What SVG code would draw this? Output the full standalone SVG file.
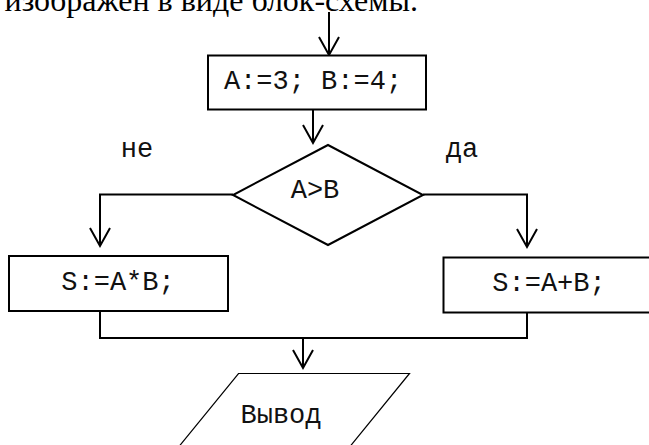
<svg xmlns="http://www.w3.org/2000/svg" width="649" height="445" viewBox="0 0 649 445">
<style>
.shape{fill:#fff;stroke:#000;stroke-width:2}
.thin{fill:#fff;stroke:#000;stroke-width:1.2}
.code{font-family:"Liberation Mono","Courier New",monospace;font-size:27px;fill:#111;text-anchor:middle}
.conn{fill:none;stroke:#000;stroke-width:2}
.head{fill:none;stroke:#000;stroke-width:2}
</style>
<defs>
<marker id="arr" markerUnits="userSpaceOnUse" orient="auto" refX="0" refY="0" markerWidth="20" markerHeight="20" overflow="visible">
<path class="head" d="M-18,-10 L0,0 L-18,10"/>
</marker>
</defs>
<text x="418" y="11" font-family="'Liberation Serif','Times New Roman',serif" font-size="32" text-anchor="end" fill="#000">изображен в виде блок-схемы.</text>
<g id="connectors">
<path class="conn" d="M329,12 L329,55" marker-end="url(#arr)"/>
<path class="conn" d="M313,109 L313,143" marker-end="url(#arr)"/>
<path class="conn" d="M233,194.5 L100,194.5 L100,246" marker-end="url(#arr)"/>
<path class="conn" d="M423,194.5 L527,194.5 L527,247" marker-end="url(#arr)"/>
<path class="conn" d="M100,311 L100,338 L527,338 L527,312"/>
<path class="conn" d="M303,338 L303,368" marker-end="url(#arr)"/>
</g>
<g id="init">
<rect class="shape" x="208" y="55.5" width="218" height="54"/>
<text class="code" x="313" y="89">A:=3; B:=4;</text>
</g>
<g id="cond">
<polygon class="shape" points="328,145 423,195 328,245 233,195"/>
<text class="code" x="315" y="198">A&gt;B</text>
</g>
<g id="label-no">
<text class="code" x="137" y="157">не</text>
</g>
<g id="label-yes">
<text class="code" x="462" y="157">да</text>
</g>
<g id="mul">
<rect class="shape" x="9" y="256" width="219" height="55"/>
<text class="code" x="118" y="290">S:=A*B;</text>
</g>
<g id="add">
<rect class="shape" x="443.5" y="257.5" width="215" height="55"/>
<text class="code" x="549" y="291">S:=A+B;</text>
</g>
<g id="output">
<polygon class="thin" points="238.5,373.5 409.5,373.5 339,460 168,460"/>
<text class="code" x="281" y="423">Вывод</text>
</g>
</svg>
